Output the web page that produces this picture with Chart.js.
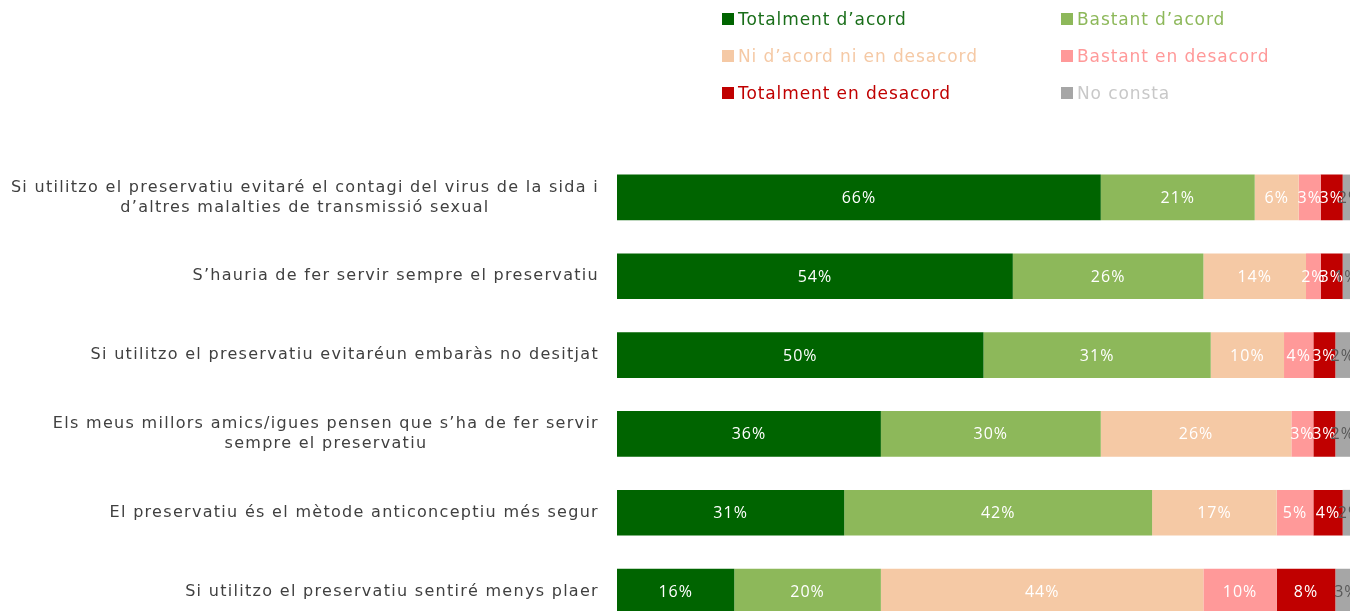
<!DOCTYPE html>
<html>
<head>
<meta charset="utf-8">
<script src="https://cdn.jsdelivr.net/npm/chart.js@4"></script>
<style>
  html, body { margin: 0; padding: 0; background: #fff; overflow: hidden; }
  #wrap { position: relative; width: 1350px; height: 631px; }
  #legend { position: absolute; left: 722px; top: 0; width: 620px; font-family: "DejaVu Sans", sans-serif; font-size: 17px; letter-spacing: 0.9px; }
  .item { position: absolute; white-space: nowrap; line-height: 20px; }
  .item i { position: absolute; left: 0; top: 4px; width: 12px; height: 12px; }
  .item span { position: absolute; left: 16px; top: 0; }
</style>
</head>
<body>
<div id="wrap">
  <canvas id="chart" width="1350" height="631"></canvas>
  <div id="legend"></div>
</div>
<script>
// Enquesta: actituds davant el preservatiu (% de respostes)
const preguntes = [
    ["Si utilitzo el preservatiu evitaré el contagi del virus de la sida i", "d’altres malalties de transmissió sexual"],
    ["S’hauria de fer servir sempre el preservatiu"],
    ["Si utilitzo el preservatiu evitaréun embaràs no desitjat"],
    ["Els meus millors amics/igues pensen que s’ha de fer servir", "sempre el preservatiu"],
    ["El preservatiu és el mètode anticonceptiu més segur"],
    ["Si utilitzo el preservatiu sentiré menys plaer"]
];
const respostes = ["Totalment d’acord", "Bastant d’acord", "Ni d’acord ni en desacord", "Bastant en desacord", "Totalment en desacord", "No consta"];

const totalmentAcord    = [66, 54, 50, 36, 31, 16];
const bastantAcord      = [21, 26, 31, 30, 42, 20];
const niAcord           = [6, 14, 10, 26, 17, 44];
const bastantDesacord   = [3, 2, 4, 3, 5, 10];
const totalmentDesacord = [3, 3, 3, 3, 4, 8];
const noConsta          = [2, 1, 2, 2, 2, 3];

const colors     = ["#006400", "#8db85a", "#f5c9a5", "#ff9999", "#c00000", "#a6a6a6"];
const textColors = ["#1a6e1a", "#8db85a", "#f5c9a5", "#ff9999", "#c00000", "#c8c8c8"];
const series = [totalmentAcord, bastantAcord, niAcord, bastantDesacord, totalmentDesacord, noConsta];

// llegenda en dues columnes
const legend = document.getElementById("legend");
respostes.forEach((nom, i) => {
    const d = document.createElement("div");
    d.className = "item";
    d.style.left = (i % 2 ? 339 : 0) + "px";
    d.style.top = (9 + Math.floor(i / 2) * 37) + "px";
    d.innerHTML = '<i style="background:' + colors[i] + '"></i><span style="color:' + textColors[i] + '">' + nom + '</span>';
    legend.appendChild(d);
});

// etiquetes de l'eix Y centrades línia a línia i alineades a la dreta
const yLabels = {
    id: "yLabels",
    afterDraw(chart) {
        const ctx = chart.ctx;
        const y = chart.scales.y;
        ctx.save();
        ctx.font = "16px 'DejaVu Sans'";
        ctx.letterSpacing = "1.3px";
        ctx.fillStyle = "#404040";
        ctx.textAlign = "center";
        ctx.textBaseline = "middle";
        preguntes.forEach((lines, i) => {
            const w = Math.max(...lines.map(l => ctx.measureText(l).width));
            const cx = chart.chartArea.left - 18 - w / 2;
            const cy = y.getPixelForTick(i);
            lines.forEach((l, k) => {
                ctx.fillText(l, cx, cy + (k - (lines.length - 1) / 2) * 20);
            });
        });
        ctx.restore();
    }
};

// percentatges dins de cada segment
const valueLabels = {
    id: "valueLabels",
    afterDatasetsDraw(chart) {
        const ctx = chart.ctx;
        ctx.save();
        ctx.font = "16px 'Open Sans'";
        ctx.letterSpacing = "1px";
        ctx.textAlign = "center";
        ctx.textBaseline = "middle";
        chart.data.datasets.forEach((ds, di) => {
            ctx.fillStyle = di === 5 ? "#595959" : "#ffffff";
            chart.getDatasetMeta(di).data.forEach((bar, i) => {
                const p = bar.getProps(["x", "base", "y"], true);
                ctx.fillText(ds.data[i] + "%", (p.x + p.base) / 2, p.y + 1);
            });
        });
        ctx.restore();
    }
};

new Chart(document.getElementById("chart"), {
    type: "bar",
    data: {
        labels: preguntes,
        datasets: series.map((s, i) => ({
            label: respostes[i],
            data: s,
            backgroundColor: colors[i],
            borderWidth: 0,
            barPercentage: 0.58,
            categoryPercentage: 1
        }))
    },
    options: {
        indexAxis: "y",
        responsive: false,
        animation: false,
        layout: { padding: { top: 158, right: 0, bottom: 0, left: 0 } },
        plugins: { legend: { display: false }, tooltip: { enabled: false } },
        scales: {
            x: { stacked: true, min: 0, max: 100, display: false },
            y: {
                stacked: true,
                grid: { display: false },
                border: { display: false },
                ticks: { display: false },
                afterFit(scale) { scale.width = 617; }
            }
        }
    },
    plugins: [yLabels, valueLabels]
});
</script>
</body>
</html>
